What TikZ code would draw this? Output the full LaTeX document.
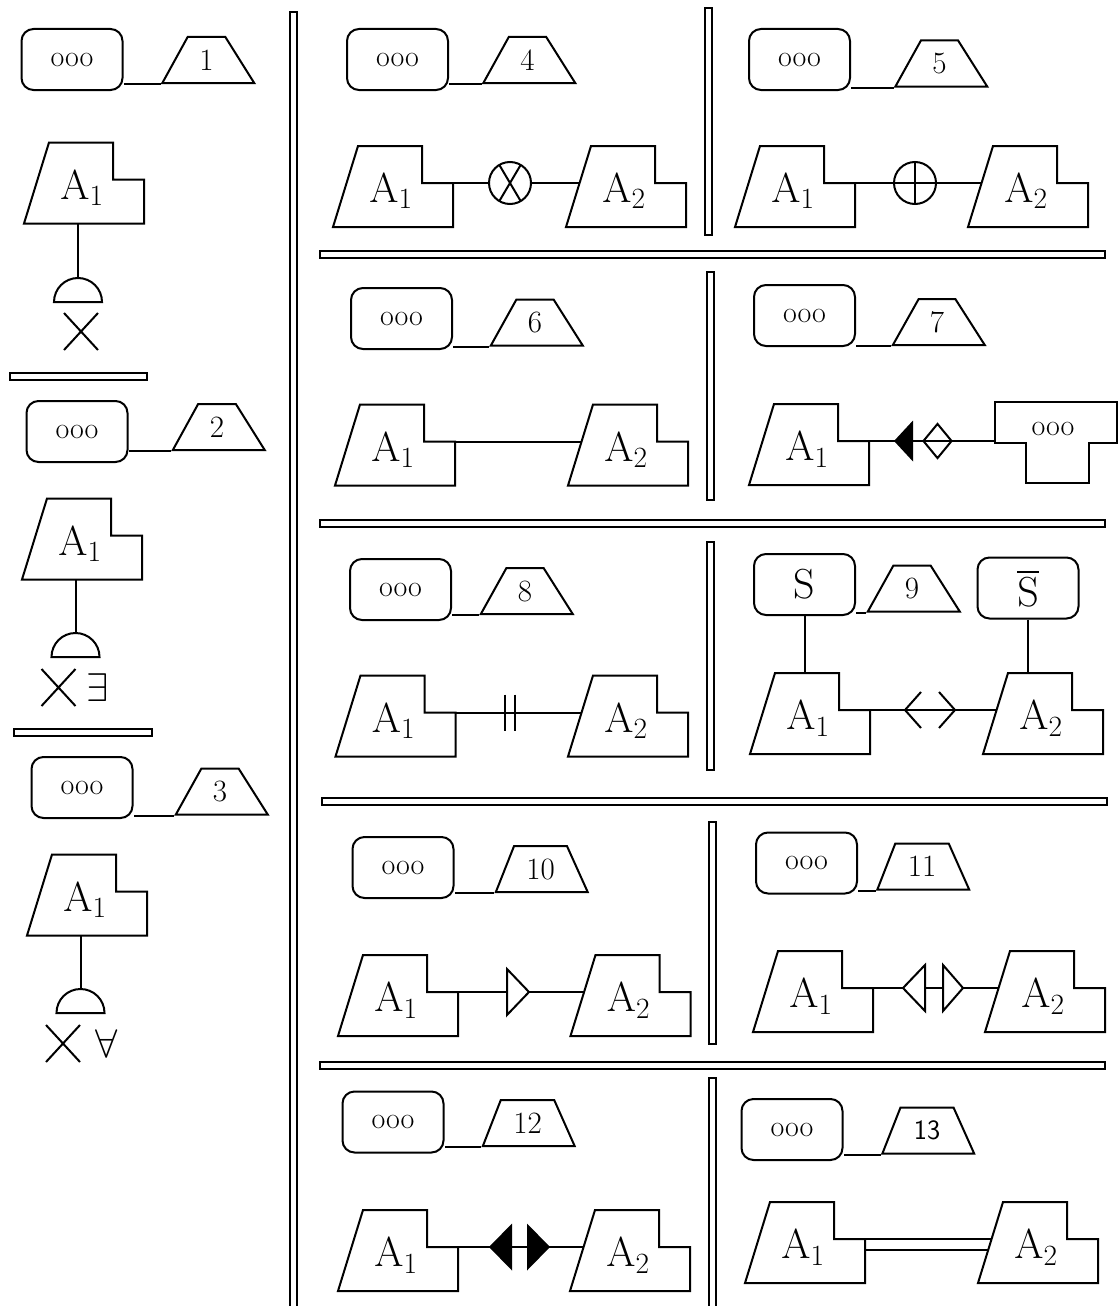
\RequirePackage{fix-cm}
\documentclass[tikz,border=0pt]{standalone}
\usepackage{amssymb, amsmath}
\usepackage{tikz}
\usetikzlibrary{shapes.geometric, shapes.misc}

\tikzset{
  ooobox/.style={draw, rounded corners=12pt, minimum width=101pt, minimum height=61pt,
    inner sep=0pt, font=\fontsize{30}{30}\selectfont},
  numtrap/.style={draw, trapezium, trapezium left angle=65, trapezium right angle=62,
    trapezium stretches=true, minimum width=92pt, minimum height=46pt, inner sep=0pt,
    font=\fontsize{31}{31}\selectfont},
  ablock/.style={inner sep=0pt, xshift=-2pt, yshift=-5pt, font=\fontsize{42}{42}\selectfont,
    append after command={\pgfextra{
      \draw ([shift={(-58pt,-35.5pt)}]\tikzlastnode.center) -- ++(25pt,81pt) -- ++(64pt,0pt)
        -- ++(0pt,-37pt) -- ++(31pt,0pt) -- ++(0pt,-44pt) -- cycle;
      \coordinate (\tikzlastnode-out) at ([shift={(62pt,8.5pt)}]\tikzlastnode.center);
      \coordinate (\tikzlastnode-in) at ([shift={(-44.4pt,8.5pt)}]\tikzlastnode.center);
      \coordinate (\tikzlastnode-top) at ([shift={(0pt,45.5pt)}]\tikzlastnode.center);
      \coordinate (\tikzlastnode-bot) at ([shift={(0pt,-35.5pt)}]\tikzlastnode.center);
    }}},
  tblock/.style={inner sep=0pt, font=\fontsize{30}{30}\selectfont,
    append after command={\pgfextra{
      \draw ([shift={(-58pt,27pt)}]\tikzlastnode.center) -- ++(122pt,0pt) -- ++(0pt,-41pt)
        -- ++(-28pt,0pt) -- ++(0pt,-40pt) -- ++(-63pt,0pt) -- ++(0pt,40pt) -- ++(-31pt,0pt) -- cycle;
      \coordinate (\tikzlastnode-in) at ([shift={(-58pt,-14pt)}]\tikzlastnode.center);
    }}},
  dome/.style={draw, semicircle, minimum width=46pt, minimum height=24pt, inner sep=0pt,
    anchor=chord center},
  xmark/.style={draw, cross out, minimum width=32pt, minimum height=35pt, inner sep=0pt},
  quant/.style={inner sep=0pt, font=\fontsize{40}{40}\selectfont},
  ring/.style={draw, circle, minimum size=42pt, inner sep=0pt},
  ringx/.style={ring, path picture={
    \draw ([shift={(-13pt,22pt)}]path picture bounding box.center) -- ++(26pt,-44pt)
          ([shift={(13pt,22pt)}]path picture bounding box.center) -- ++(-26pt,-44pt);}},
  ringplus/.style={ring, path picture={
    \draw (path picture bounding box.north) -- (path picture bounding box.south)
          (path picture bounding box.west) -- (path picture bounding box.east);}}
}

\begin{document}
\begin{tikzpicture}[x=1pt, y=-1pt, line width=2pt]

  \useasboundingbox (0,0) rectangle (1119,1306);
  \clip (0,0) rectangle (1119,1306);

  \draw (290,12) rectangle (297,1312);
  \draw (10,373) rectangle (147,380);
  \draw (14,729) rectangle (152,736);
  \draw (320,251) rectangle (1105,258);
  \draw (320,520) rectangle (1105,527);
  \draw (322,798) rectangle (1107,805);
  \draw (320,1062) rectangle (1105,1069);
  \draw (705,8) rectangle (712,235);
  \draw (707,272) rectangle (714,500);
  \draw (707,542) rectangle (714,770);
  \draw (709,822) rectangle (716,1044);
  \draw (709,1078) rectangle (716,1312);

  \node[ooobox] (box1) at (72,59.5) {ooo};
  \node[numtrap] (num1) at (206.5,60) {1};
  \draw (num1.bottom left corner) -- (num1.bottom left corner -| box1.east);
  \node[ablock] (a1) at (84,183) {$\mathrm{A}_1$};
  \node[dome] (d1) at (78,303) {};
  \draw (d1.apex) -- (d1.apex |- a1-bot);
  \node[xmark] (x1) at (81,331.5) {};

  \node[ooobox] (box2) at (77,431.5) {ooo};
  \node[numtrap] (num2) at (217,427) {2};
  \draw (num2.bottom left corner) -- (num2.bottom left corner -| box2.east);
  \node[ablock] (a2) at (82,539) {$\mathrm{A}_1$};
  \node[dome] (d2) at (75.5,658) {};
  \draw (d2.apex) -- (d2.apex |- a2-bot);
  \node[xmark] (x2) at (58.5,687.5) {};
  \node[quant] (q2) at (97.5,687.5) {$\exists$};

  \node[ooobox] (box3) at (82,787.5) {ooo};
  \node[numtrap] (num3) at (220,791.5) {3};
  \draw (num3.bottom left corner) -- (num3.bottom left corner -| box3.east);
  \node[ablock] (a3) at (87,895) {$\mathrm{A}_1$};
  \node[dome] (d3) at (80.5,1014) {};
  \draw (d3.apex) -- (d3.apex |- a3-bot);
  \node[xmark] (x3) at (63,1043.5) {};
  \node[quant] (q3) at (106.5,1044) {$\forall$};

  \node[ooobox] (box4) at (397.5,59.5) {ooo};
  \node[numtrap] (num4) at (527.5,60) {4};
  \draw (num4.bottom left corner) -- (num4.bottom left corner -| box4.east);
  \node[ablock] (a4) at (393,186.5) {$\mathrm{A}_1$};
  \node[ablock] (b4) at (626,186.5) {$\mathrm{A}_2$};
  \node[ringx] (r4) at (510,183) {};
  \draw (a4-out) -- (r4.west);
  \draw (r4.east) -- (b4-in);

  \node[ooobox] (box5) at (799.5,59.5) {ooo};
  \node[numtrap] (num5) at (939.5,63.5) {5};
  \draw (num5.bottom left corner) -- (num5.bottom left corner -| box5.east);
  \node[ablock] (a5) at (795,186.5) {$\mathrm{A}_1$};
  \node[ablock] (b5) at (1028,186.5) {$\mathrm{A}_2$};
  \node[ringplus] (r5) at (915,183) {};
  \draw (a5-out) -- (r5.west);
  \draw (r5.east) -- (b5-in);

  \node[ooobox] (box6) at (401.5,318.5) {ooo};
  \node[numtrap] (num6) at (535,322.5) {6};
  \draw (num6.bottom left corner) -- (num6.bottom left corner -| box6.east);
  \node[ablock] (a6) at (395,445) {$\mathrm{A}_1$};
  \node[ablock] (b6) at (628,445) {$\mathrm{A}_2$};
  \draw (a6-out) -- (b6-in);

  \node[ooobox] (box7) at (804.5,315.5) {ooo};
  \node[numtrap] (num7) at (937,322) {7};
  \draw (num7.bottom left corner) -- (num7.bottom left corner -| box7.east);
  \node[ablock] (a7) at (809,444.5) {$\mathrm{A}_1$};
  \node[tblock] (t7) at (1053,429) {ooo};
  \draw (a7-out) -- (t7-in |- a7-out);
  \coordinate (k7) at (894,441);
  \fill (k7) -- ++(19,-20.5) -- ++(0,41) -- cycle;
  \node[draw, diamond, minimum width=29pt, minimum height=35pt, inner sep=0pt] (dm7) at (937.5,441) {};

  \node[ooobox] (box8) at (400.5,589.5) {ooo};
  \node[numtrap] (num8) at (525,591) {8};
  \draw (num8.bottom left corner) -- (num8.bottom left corner -| box8.east);
  \node[ablock] (a8) at (395.5,716) {$\mathrm{A}_1$};
  \node[ablock] (b8) at (628,716) {$\mathrm{A}_2$};
  \draw (a8-out) -- (b8-in);
  \coordinate (k8) at (510,712.5);
  \draw (k8) ++(-5,-18) -- ++(0,36) (k8) ++(5,-18) -- ++(0,36);

  \node[ooobox, font=\fontsize{42}{42}\selectfont] (box9) at (804.5,584.5) {S};
  \node[numtrap] (num9) at (912,588.5) {9};
  \draw (num9.bottom left corner) -- (num9.bottom left corner -| box9.east);
  \node[ooobox, font=\fontsize{42}{42}\selectfont] (sbar9) at (1028,588) {$\overline{\mathrm{S}}$};
  \node[ablock] (a9) at (810,713.5) {$\mathrm{A}_1$};
  \node[ablock] (b9) at (1043,713.5) {$\mathrm{A}_2$};
  \draw (box9.south) -- (box9.south |- a9-top);
  \draw (sbar9.south) -- (sbar9.south |- b9-top);
  \draw (a9-out) -- (b9-in);
  \coordinate (lt9) at (905,710);
  \coordinate (gt9) at (955,710);
  \draw (lt9) ++(16,-18) -- (lt9) -- ++(16,18);
  \draw (gt9) ++(-16,-18) -- (gt9) -- ++(-16,18);

  \node[ooobox] (box10) at (403,867.5) {ooo};
  \node[numtrap] (num10) at (540.5,869) {10};
  \draw (num10.bottom left corner) -- (num10.bottom left corner -| box10.east);
  \node[ablock] (a10) at (398,995.5) {$\mathrm{A}_1$};
  \node[ablock] (b10) at (630.5,995.5) {$\mathrm{A}_2$};
  \draw (a10-out) -- (b10-in);
  \coordinate (k10) at (507,992);
  \filldraw[fill=white] (k10) -- ++(0,-23) -- ++(22,23) -- ++(-22,23) -- cycle;

  \node[ooobox] (box11) at (806.5,863) {ooo};
  \node[numtrap] (num11) at (922,866.5) {11};
  \draw (num11.bottom left corner) -- (num11.bottom left corner -| box11.east);
  \node[ablock] (a11) at (813,991.5) {$\mathrm{A}_1$};
  \node[ablock] (b11) at (1045,991.5) {$\mathrm{A}_2$};
  \draw (a11-out) -- (b11-in);
  \coordinate (lt11) at (903,988);
  \coordinate (gt11) at (963,988);
  \filldraw[fill=white] (lt11) -- ++(22,-23) -- ++(0,46) -- cycle;
  \filldraw[fill=white] (gt11) -- ++(-20,-23) -- ++(0,46) -- cycle;

  \node[ooobox] (box12) at (393,1122) {ooo};
  \node[numtrap] (num12) at (527.5,1123) {12};
  \draw (num12.bottom left corner) -- (num12.bottom left corner -| box12.east);
  \node[ablock] (a12) at (398,1250.5) {$\mathrm{A}_1$};
  \node[ablock] (b12) at (630,1250.5) {$\mathrm{A}_2$};
  \draw (a12-out) -- (b12-in);
  \coordinate (lt12) at (489,1247);
  \coordinate (gt12) at (550,1247);
  \fill (lt12) -- ++(23,-23.5) -- ++(0,47) -- cycle;
  \fill (gt12) -- ++(-23,-23.5) -- ++(0,47) -- cycle;

  \node[ooobox] (box13) at (792,1129.5) {ooo};
  \node[numtrap, font=\sffamily\fontsize{28}{28}\selectfont] (num13) at (927,1130.5) {13};
  \draw (num13.bottom left corner) -- (num13.bottom left corner -| box13.east);
  \node[ablock] (a13) at (805,1242.5) {$\mathrm{A}_1$};
  \node[ablock] (b13) at (1038,1242.5) {$\mathrm{A}_2$};
  \draw (a13-out) -- (b13-in);
  \draw ([yshift=-11pt]a13-out) -- ([shift={(-3.4pt,-11pt)}]b13-in);

\end{tikzpicture}
\end{document}
